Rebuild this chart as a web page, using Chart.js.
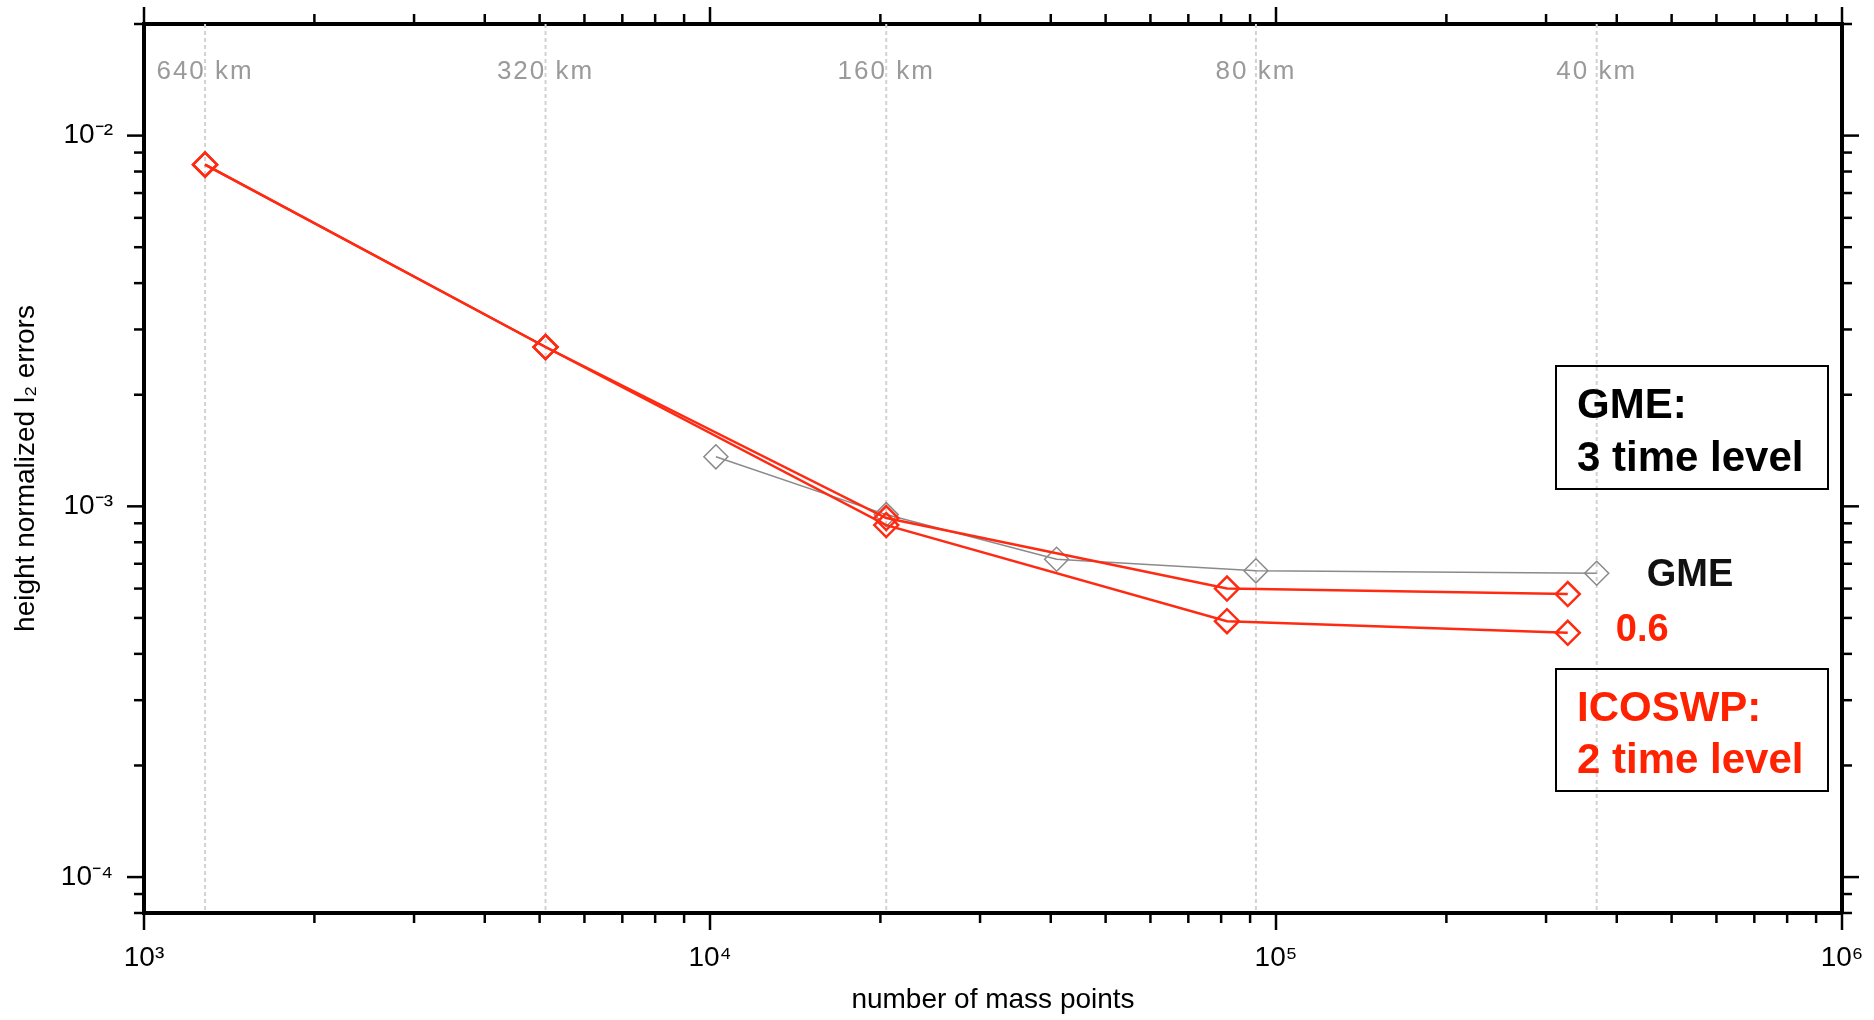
<!DOCTYPE html>
<html>
<head>
<meta charset="utf-8">
<script src="https://cdn.jsdelivr.net/npm/chart.js@4.4.1/dist/chart.umd.min.js"></script>
<style>
  html, body { margin: 0; padding: 0; background: #fff; }
  canvas { display: block; }
</style>
</head>
<body>
<canvas id="chart" width="1874" height="1020"></canvas>
<script>
// number of mass points for each run
const gmeX = [10242, 20482, 40962, 92162, 368642];
const icoX = [1282, 5122, 20482, 81922, 327682];

// height normalized l2 errors
const gmeY = [1.36e-3, 9.5e-4, 7.2e-4, 6.7e-4, 6.6e-4];
const icoUpperY = [8.35e-3, 2.69e-3, 9.3e-4, 6.0e-4, 5.8e-4];
const ico06Y = [8.35e-3, 2.69e-3, 8.9e-4, 4.9e-4, 4.56e-4];

// resolution guide lines along the top
const resX = [1282, 5122, 20482, 92162, 368642];
const resLabels = ['640 km', '320 km', '160 km', '80 km', '40 km'];

// axis ranges and labelled decades
const xRange = [1e3, 1e6];
const yRange = [8e-5, 2e-2];
const xDecades = [1e3, 1e4, 1e5, 1e6];
const yDecades = [1e-4, 1e-3, 1e-2];

const FONT = '"Liberation Sans", Arial, Helvetica, sans-serif';
const RED = '#ff2a12';
const GREY = '#8a8a8a';

const sup = { '-': '\u207B', '0': '\u2070', '1': '\u00B9', '2': '\u00B2', '3': '\u00B3',
  '4': '\u2074', '5': '\u2075', '6': '\u2076', '7': '\u2077', '8': '\u2078', '9': '\u2079' };
function powLabel(v) {
  const e = String(Math.round(Math.log10(v)));
  return '10' + e.split('').map(c => sup[c]).join('');
}

function logMarks(min, max) {
  const major = [], minor = [];
  for (let e = Math.floor(Math.log10(min)); e <= Math.ceil(Math.log10(max)); e++) {
    for (let m = 1; m < 10; m++) {
      const v = m * Math.pow(10, e);
      if (v < min * 0.999 || v > max * 1.001) continue;
      (m === 1 ? major : minor).push(v);
    }
  }
  return { major, minor };
}

const toPoints = (xs, ys) => xs.map((x, i) => ({ x: x, y: ys[i] }));

// fixed axis box sizes, and no extra room for overhanging labels
function fixBox(size) {
  return s => {
    if (s.isHorizontal()) s.height = size; else s.width = size;
    s.paddingTop = s.paddingBottom = s.paddingLeft = s.paddingRight = 0;
  };
}

const framePlugin = {
  id: 'framePlugin',
  beforeDatasetsDraw(chart) {
    const { ctx, chartArea: a, scales: { x } } = chart;
    ctx.save();
    ctx.strokeStyle = '#d2d2d2';
    ctx.lineWidth = 2;
    ctx.setLineDash([4, 3]);
    resX.forEach(v => {
      const px = x.getPixelForValue(v);
      ctx.beginPath();
      ctx.moveTo(px, a.top);
      ctx.lineTo(px, a.bottom);
      ctx.stroke();
    });
    ctx.setLineDash([]);
    ctx.fillStyle = '#9a9a9a';
    ctx.font = '26px ' + FONT;
    ctx.letterSpacing = '2px';
    ctx.textAlign = 'center';
    ctx.textBaseline = 'middle';
    resLabels.forEach((t, i) => ctx.fillText(t, x.getPixelForValue(resX[i]), a.top + 48));
    ctx.restore();
  },
  afterDraw(chart) {
    const { ctx, chartArea: a, scales: { x, y } } = chart;
    ctx.save();
    ctx.strokeStyle = '#000';
    ctx.lineWidth = 2.5;
    // outward tick marks on all four sides
    const xm = logMarks(xRange[0], xRange[1]);
    const ym = logMarks(yRange[0], yRange[1]);
    const tick = (x1, y1, x2, y2) => { ctx.beginPath(); ctx.moveTo(x1, y1); ctx.lineTo(x2, y2); ctx.stroke(); };
    [[xm.major, 17], [xm.minor, 10]].forEach(([vals, len]) => vals.forEach(v => {
      const px = x.getPixelForValue(v);
      tick(px, a.bottom, px, a.bottom + len);
      tick(px, a.top, px, a.top - len);
    }));
    [[ym.major, 17], [ym.minor, 10]].forEach(([vals, len]) => vals.forEach(v => {
      const py = y.getPixelForValue(v);
      tick(a.left, py, a.left - len, py);
      tick(a.right, py, a.right + len, py);
    }));

    // boxed notes on the right
    ctx.lineWidth = 2;
    ctx.strokeRect(1556, 366, 272, 123);
    ctx.strokeRect(1556, 669, 272, 122);
    ctx.font = 'bold 42px ' + FONT;
    ctx.textAlign = 'left';
    ctx.textBaseline = 'alphabetic';
    ctx.fillStyle = '#000';
    ctx.fillText('GME:', 1577, 418);
    ctx.fillText('3 time level', 1577, 471);
    ctx.fillStyle = '#ff2200';
    ctx.fillText('ICOSWP:', 1577, 721);
    ctx.fillText('2 time level', 1577, 773);

    // series labels next to the last points
    ctx.font = 'bold 38px ' + FONT;
    ctx.textBaseline = 'middle';
    ctx.fillStyle = '#111';
    ctx.fillText('GME', x.getPixelForValue(gmeX[gmeX.length - 1]) + 50, y.getPixelForValue(gmeY[gmeY.length - 1]) + 2);
    ctx.fillStyle = '#ff2200';
    ctx.fillText('0.6', x.getPixelForValue(icoX[icoX.length - 1]) + 48, y.getPixelForValue(ico06Y[ico06Y.length - 1]) - 2);
    ctx.restore();
  }
};

const plainAxis = {
  type: 'logarithmic',
  grid: { display: false, drawTicks: false },
  border: { display: true, color: '#000', width: 4 },
  ticks: { display: false }
};

const diamond = {
  showLine: true,
  pointStyle: 'rectRot',
  pointRadius: 12,
  pointBackgroundColor: 'rgba(0,0,0,0)'
};

new Chart(document.getElementById('chart'), {
  type: 'scatter',
  data: {
    datasets: [
      Object.assign({}, diamond, {
        label: 'ICOSWP 0.6',
        data: toPoints(icoX, ico06Y),
        borderColor: RED,
        borderWidth: 2.5,
        pointBorderWidth: 2.5,
        pointBorderColor: RED,
        order: 1
      }),
      Object.assign({}, diamond, {
        label: 'ICOSWP',
        data: toPoints(icoX, icoUpperY),
        borderColor: RED,
        borderWidth: 2.5,
        pointBorderWidth: 2.5,
        pointBorderColor: RED,
        order: 2
      }),
      Object.assign({}, diamond, {
        label: 'GME',
        data: toPoints(gmeX, gmeY),
        borderColor: GREY,
        borderWidth: 1.5,
        pointBorderWidth: 1.5,
        pointBorderColor: GREY,
        order: 3
      })
    ]
  },
  options: {
    responsive: false,
    animation: false,
    layout: { padding: 0 },
    plugins: { legend: { display: false }, tooltip: { enabled: false } },
    scales: {
      x: {
        type: 'logarithmic',
        position: 'bottom',
        min: xRange[0],
        max: xRange[1],
        grid: { display: false, drawTicks: false },
        border: { display: true, color: '#000', width: 4 },
        afterBuildTicks: s => { s.ticks = xDecades.map(v => ({ value: v })); },
        afterFit: fixBox(107),
        ticks: {
          autoSkip: false,
          maxRotation: 0,
          padding: 28,
          color: '#000',
          font: { family: FONT, size: 28 },
          callback: v => powLabel(v)
        },
        title: {
          display: true,
          text: 'number of mass points',
          color: '#000',
          font: { family: FONT, size: 28 },
          padding: { top: 0, bottom: 3 }
        }
      },
      x2: Object.assign({}, plainAxis, {
        position: 'top', min: xRange[0], max: xRange[1],
        afterFit: fixBox(24)
      }),
      y: {
        type: 'logarithmic',
        position: 'left',
        min: yRange[0],
        max: yRange[1],
        grid: { display: false, drawTicks: false },
        border: { display: true, color: '#000', width: 4 },
        afterBuildTicks: s => { s.ticks = yDecades.map(v => ({ value: v })); },
        afterFit: fixBox(144),
        ticks: {
          autoSkip: false,
          padding: 31,
          color: '#000',
          font: { family: FONT, size: 28 },
          callback: v => powLabel(v)
        },
        title: {
          display: true,
          text: 'height normalized l\u2082 errors',
          color: '#000',
          font: { family: FONT, size: 28 },
          padding: { top: 9, bottom: 0 }
        }
      },
      y2: Object.assign({}, plainAxis, {
        position: 'right', min: yRange[0], max: yRange[1],
        afterFit: fixBox(32)
      })
    }
  },
  plugins: [framePlugin]
});
</script>
</body>
</html>
